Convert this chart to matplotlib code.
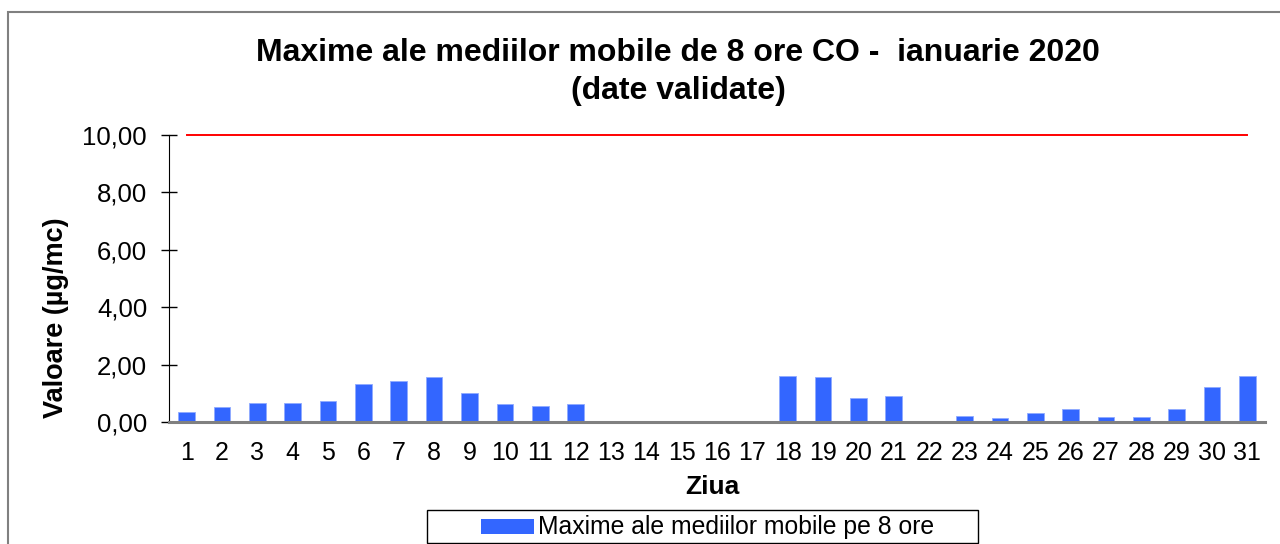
import matplotlib
matplotlib.use("Agg")
import matplotlib.pyplot as plt
from matplotlib.patches import Rectangle

plt.rcParams['font.family'] = ['Liberation Sans', 'DejaVu Sans']

days = list(range(1, 32))
values = [0.36, 0.54, 0.65, 0.65, 0.73, 1.31, 1.44, 1.56, 1.02, 0.63, 0.57, 0.61,
          None, None, None, None, None,
          1.59, 1.56, 0.83, 0.90, None,
          0.22, 0.15, 0.33, 0.44, 0.19, 0.16, 0.44, 1.22, 1.59]
limit_values = [10.0] * 31
yticks = [0, 2, 4, 6, 8, 10]
title = "Maxime ale mediilor mobile de 8 ore CO -  ianuarie 2020\n(date validate)"
series_label = "Maxime ale mediilor mobile pe 8 ore"

W, H = 1280, 544
fig = plt.figure(figsize=(W / 100, H / 100), dpi=100)
ax = fig.add_axes([169 / W, 1 - 422 / H, (1265 - 169) / W, (422 - 135) / H])

xs = [d for d, v in zip(days, values) if v is not None]
ys = [v for v in values if v is not None]
bar_color = '#3366FF'
ax.bar(xs, ys, width=0.47, color=bar_color, edgecolor='#8FAAFF', linewidth=0.6, zorder=2)
ax.plot(days, limit_values, color='#FF0000', linewidth=1.4, zorder=3, clip_on=False)

ax.set_xlim(0.5, 31.5)
ax.set_ylim(0, 10)
ax.set_xticks(days)
ax.set_xticklabels([str(d) for d in days], fontsize=18)
ax.set_yticks(yticks)
ax.set_yticklabels([f"{t:.2f}".replace('.', ',') for t in yticks], fontsize=18.5)
ax.tick_params(axis='x', length=0, pad=14)
ax.tick_params(axis='y', direction='inout', length=11.5, width=1, pad=10)

for s in ['top', 'right']:
    ax.spines[s].set_visible(False)
ax.spines['left'].set_color('black')
ax.spines['bottom'].set_color('#808080')
ax.spines['bottom'].set_linewidth(2.2)
ax.spines['bottom'].set_zorder(4)

# axis titles
fig.text(712 / W, 1 - 487 / H, "Ziua", ha='center', va='center', fontsize=19,
         fontweight='bold')
fig.text(56 / W, 1 - 318 / H, "Valoare (µg/mc)", ha='center', va='center',
         fontsize=19.5, fontweight='bold', rotation=90)

# chart title
fig.text(678 / W, 1 - 72 / H, title, ha='center', va='center', fontsize=23,
         fontweight='bold', linespacing=1.32)

# legend
fig.patches.append(Rectangle((427 / W, 1 - 543 / H), (978 - 427) / W, (543 - 510) / H,
                             transform=fig.transFigure, fill=True, facecolor='white',
                             edgecolor='black', linewidth=1.0))
fig.patches.append(Rectangle((481 / W, 1 - 534 / H), (534 - 481) / W, (534 - 519) / H,
                             transform=fig.transFigure, facecolor=bar_color,
                             edgecolor='none'))
fig.text(538 / W, 1 - 527 / H, series_label, ha='left', va='center', fontsize=17.8)

# outer chart border
fig.patches.append(Rectangle((8 / W, -0.05), 1.2, 1.05 - 12 / H, transform=fig.transFigure,
                             fill=False, edgecolor='#808080', linewidth=1.5))

fig.savefig("out.png", dpi=100)
